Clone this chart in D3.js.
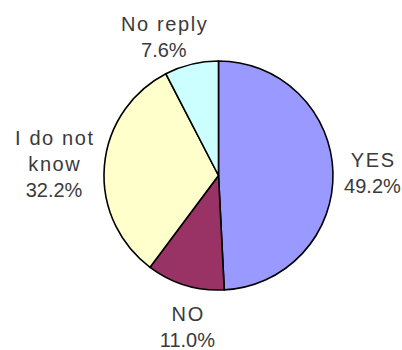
<!DOCTYPE html>
<html>
<head>
<meta charset="utf-8">
<script src="https://cdn.jsdelivr.net/npm/d3@7/dist/d3.min.js"></script>
<style>
  html, body { margin: 0; padding: 0; background: #fff; }
  svg { display: block; }
  .lbl { font-family: "Liberation Sans", Arial, sans-serif; font-size: 20px; fill: #3a3a3a; }
</style>
</head>
<body>
<svg id="chart" width="402" height="350"></svg>
<script>
// Survey answers, clockwise from 12 o'clock
const categories = ["YES", "NO", "I do not know", "No reply"];
const shares = [49.2, 11.0, 32.2, 7.6];
const labelLines = [["YES"], ["NO"], ["I do not", "know"], ["No reply"]];
const percentText = ["49.2%", "11.0%", "32.2%", "7.6%"];

const colors = d3.scaleOrdinal()
  .domain(categories)
  .range(["#9999ff", "#993366", "#ffffcc", "#ccffff"]);

const svg = d3.select("#chart");
const cx = 218.5, cy = 175.5, radius = 114.5;
const g = svg.append("g").attr("transform", `translate(${cx},${cy})`);

const pie = d3.pie().sort(null).value(d => d.value);
const arcs = pie(categories.map((c, i) => ({ cat: c, value: shares[i], i })));

const arc = d3.arc().innerRadius(0).outerRadius(radius);

g.selectAll("path.slice")
  .data(arcs)
  .join("path")
  .attr("class", "slice")
  .attr("d", arc)
  .attr("fill", d => colors(d.data.cat))
  .attr("stroke", "#000")
  .attr("stroke-width", 1.6)
  .attr("stroke-linejoin", "round");

// Labels sit outside the pie on a wider ring, nudged to clear the rim
const labelArc = d3.arc().innerRadius(155).outerRadius(155);
const nudge = { "YES": [-1, 1], "NO": [14, 3], "I do not know": [-10, 1], "No reply": [-18, 12] };
const lineH = 26;

arcs.forEach(d => {
  const [lx, ly] = labelArc.centroid(d);
  const [nx, ny] = nudge[d.data.cat];
  const lines = labelLines[d.data.i].map(t => ({ t, word: true }))
    .concat([{ t: percentText[d.data.i], word: false }]);
  const top = ly + ny - (lines.length - 1) * lineH / 2;
  const text = g.append("text")
    .attr("class", "lbl")
    .attr("text-anchor", "middle")
    .attr("dominant-baseline", "central");
  lines.forEach((ln, k) => {
    text.append("tspan")
      .attr("x", lx + nx + (ln.word ? 0.8 : 0))
      .attr("y", top + k * lineH)
      .attr("letter-spacing", ln.word ? 1.6 : 0)
      .text(ln.t);
  });
});
</script>
</body>
</html>
